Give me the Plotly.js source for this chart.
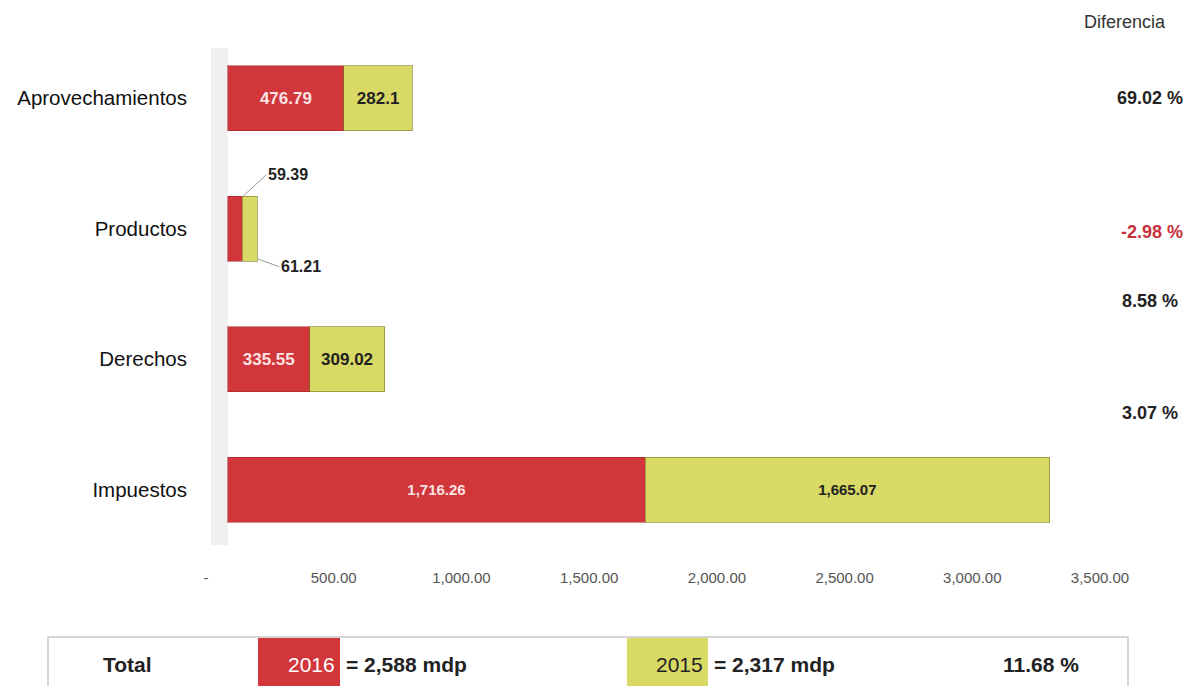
<!DOCTYPE html>
<html>
<head>
<meta charset="utf-8">
<script src="https://cdn.plot.ly/plotly-3.0.1.min.js"></script>
<style>html,body{margin:0;padding:0;background:#fff;}#chart{width:1194px;height:686px;}</style>
</head>
<body>
<div id="chart"></div>
<script>
// ---- data ----
var categories = ['Aprovechamientos', 'Productos', 'Derechos', 'Impuestos'];
var values2016 = [476.79, 59.39, 335.55, 1716.26];
var values2015 = [282.1, 61.21, 309.02, 1665.07];
var diffLabels = ['69.02 %', '-2.98 %', '8.58 %', '3.07 %'];
var tickValues = [0, 500, 1000, 1500, 2000, 2500, 3000, 3500];
var tickLabels = ['-', '500.00', '1,000.00', '1,500.00', '2,000.00', '2,500.00', '3,000.00', '3,500.00'];
var totalLabel = 'Total';
var year2016 = '2016';
var year2015 = '2015';
var total2016 = '= 2,588 mdp';
var total2015 = '= 2,317 mdp';
var totalDiff = '11.68 %';
var diffHeader = 'Diferencia';

// ---- style ----
var RED = '#d0363a', YEL = '#d9d966';
var NARROW = '"Liberation Sans Narrow", "Arial Narrow", "Liberation Sans", Arial, sans-serif';
var SANS = '"Liberation Sans", Arial, sans-serif';
var W = 1194, H = 686;
var M = {l: 206, r: 94, t: 33, b: 131};
function px(x) { return (x - M.l) / (W - M.l - M.r); }
function py(y) { return (H - M.b - y) / (H - M.t - M.b); }
function fmt(v) { return v.toLocaleString('en-US', {maximumFractionDigits: 2}); }

var smallIdx = 1; // Productos: labels drawn outside
var insideText16 = values2016.map(function (v, i) { return i === smallIdx ? '' : fmt(v); });
var insideText15 = values2015.map(function (v, i) { return i === smallIdx ? '' : fmt(v); });
var sizes = categories.map(function (c, i) { return i === 3 ? 15 : 17; });

var traces = [
  {type: 'bar', orientation: 'h', y: categories, x: values2016, name: year2016,
   marker: {color: RED, line: {color: 'rgba(150,35,40,0.5)', width: 1}}, width: 0.5,
   text: insideText16, textposition: 'inside', insidetextanchor: 'middle', constraintext: 'none',
   textfont: {family: NARROW, color: '#fbe3e3', size: sizes, weight: 'bold'},
   hoverinfo: 'x+y'},
  {type: 'bar', orientation: 'h', y: categories, x: values2015, name: year2015,
   marker: {color: YEL, line: {color: 'rgba(120,120,40,0.6)', width: 1}}, width: 0.5,
   text: insideText15, textposition: 'inside', insidetextanchor: 'middle', constraintext: 'none',
   textfont: {family: NARROW, color: '#222', size: sizes, weight: 'bold'},
   hoverinfo: 'x+y'},
  // invisible carrier so the value axis (x2) with the tick labels is drawn
  {type: 'scatter', mode: 'markers', x: tickValues, y: tickValues.map(function () { return categories[0]; }),
   xaxis: 'x2', yaxis: 'y', marker: {opacity: 0}, hoverinfo: 'skip', showlegend: false}
];

var ann = [];
// Productos outside labels with leader lines
ann.push({x: values2016[smallIdx], y: categories[smallIdx], xref: 'x', yref: 'y', yshift: 32,
  text: fmt(values2016[smallIdx]), showarrow: true, arrowhead: 0, arrowwidth: 1, arrowcolor: '#999',
  ax: 24, ay: -22, xanchor: 'left', font: {family: NARROW, size: 16, color: '#222', weight: 'bold'}});
ann.push({x: values2016[smallIdx] + values2015[smallIdx], y: categories[smallIdx], xref: 'x', yref: 'y', yshift: -30,
  text: fmt(values2015[smallIdx]), showarrow: true, arrowhead: 0, arrowwidth: 1, arrowcolor: '#999',
  ax: 22, ay: 8, xanchor: 'left', font: {family: NARROW, size: 16, color: '#222', weight: 'bold'}});

// Diferencia column
ann.push({xref: 'paper', yref: 'paper', x: px(1168), y: py(22), xanchor: 'right', yanchor: 'middle',
  text: diffHeader, showarrow: false, font: {family: NARROW, size: 18, color: '#333'}});
var diffShift = [0, -3, 58, 77];
var diffRight = [1185, 1185, 1180, 1180];
diffLabels.forEach(function (t, i) {
  ann.push({xref: 'paper', yref: 'y', x: px(diffRight[i]), y: categories[i], yshift: diffShift[i],
    xanchor: 'right', yanchor: 'middle', text: t, showarrow: false,
    font: {family: NARROW, size: 18, weight: 'bold', color: t.charAt(0) === '-' ? '#c8303a' : '#222'}});
});

// Total row
var rowY = py(664);
ann.push({xref: 'paper', yref: 'paper', x: px(127), y: rowY, xanchor: 'center', yanchor: 'middle',
  text: totalLabel, showarrow: false, font: {family: NARROW, size: 21, weight: 'bold', color: '#222'}});
ann.push({xref: 'paper', yref: 'paper', x: px(337), y: rowY, xanchor: 'right', yanchor: 'middle',
  text: year2016, showarrow: false, font: {family: NARROW, size: 21, color: '#fff'}});
ann.push({xref: 'paper', yref: 'paper', x: px(344), y: rowY, xanchor: 'left', yanchor: 'middle',
  text: total2016, showarrow: false, font: {family: NARROW, size: 21, weight: 'bold', color: '#222'}});
ann.push({xref: 'paper', yref: 'paper', x: px(705), y: rowY, xanchor: 'right', yanchor: 'middle',
  text: year2015, showarrow: false, font: {family: NARROW, size: 21, color: '#222'}});
ann.push({xref: 'paper', yref: 'paper', x: px(712), y: rowY, xanchor: 'left', yanchor: 'middle',
  text: total2015, showarrow: false, font: {family: NARROW, size: 21, weight: 'bold', color: '#222'}});
ann.push({xref: 'paper', yref: 'paper', x: px(1041), y: rowY, xanchor: 'center', yanchor: 'middle',
  text: totalDiff, showarrow: false, font: {family: NARROW, size: 21, weight: 'bold', color: '#222'}});

var shapes = [
  // faint 3D wall
  {type: 'rect', xref: 'paper', yref: 'paper', x0: px(211), x1: px(228), y0: py(545), y1: py(48),
   fillcolor: 'rgba(205,205,205,0.3)', line: {width: 0}, layer: 'below'},
  // total box
  {type: 'rect', xref: 'paper', yref: 'paper', x0: px(48), x1: px(1128), y0: py(690), y1: py(637),
   fillcolor: '#fff', line: {color: '#c8c8c8', width: 1.5}, layer: 'below'},
  {type: 'rect', xref: 'paper', yref: 'paper', x0: px(258), x1: px(340), y0: py(690), y1: py(638),
   fillcolor: RED, line: {width: 0}, layer: 'below'},
  {type: 'rect', xref: 'paper', yref: 'paper', x0: px(627), x1: px(708), y0: py(690), y1: py(638),
   fillcolor: YEL, line: {width: 0}, layer: 'below'}
];

var layout = {
  width: W, height: H, margin: M, paper_bgcolor: '#fff', plot_bgcolor: 'rgba(0,0,0,0)',
  barmode: 'stack', showlegend: false,
  xaxis: {range: [-90.5, 3588.5], showgrid: false, zeroline: false, showticklabels: false, showline: false, ticks: ''},
  xaxis2: {overlaying: 'x', anchor: 'y', side: 'bottom', range: [0, 3500], tickmode: 'array',
    tickvals: tickValues, ticktext: tickLabels, showgrid: false, zeroline: false, showline: false, ticks: '',
    ticklabelstandoff: 12, tickfont: {family: NARROW, size: 15, color: '#555'}},
  yaxis: {type: 'category', categoryorder: 'array', categoryarray: categories, range: [3.5, -0.5],
    showgrid: false, zeroline: false, showline: false, ticks: '', ticklabelstandoff: 18,
    tickfont: {family: SANS, size: 20.5, color: '#111'}},
  annotations: ann, shapes: shapes
};

Plotly.newPlot('chart', traces, layout, {displayModeBar: false, staticPlot: true});
</script>
</body>
</html>
